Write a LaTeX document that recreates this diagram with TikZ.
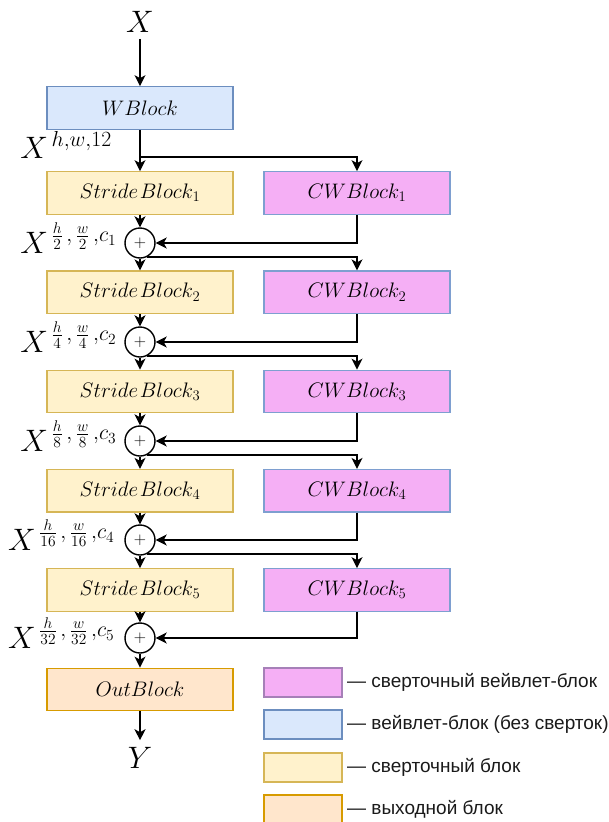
\RequirePackage{fix-cm}
\documentclass[tikz,border=0pt]{standalone}
\usepackage{fontspec}
\usetikzlibrary{arrows.meta}
\newfontfamily\lgdfamily{Liberation Sans}
\newcommand\blkfont{\fontsize{21}{24}\selectfont}
\newcommand\lblfont{\fontsize{31}{34}\selectfont}
\newcommand\sumfont{\fontsize{17}{19}\selectfont}
\newcommand\lgdfont{\lgdfamily\fontsize{19}{22}\selectfont}
\definecolor{wfill}{HTML}{DAE8FC}
\definecolor{wline}{HTML}{6C8EBF}
\definecolor{sfill}{HTML}{FFF2CC}
\definecolor{sline}{HTML}{D6B656}
\definecolor{cfill}{HTML}{F5AFF5}
\definecolor{cline}{HTML}{7E9FD0}
\definecolor{kline}{HTML}{A680B8}
\definecolor{ofill}{HTML}{FFE6CC}
\definecolor{oline}{HTML}{D79B00}
\definecolor{lgdtext}{HTML}{1A1A1A}
\begin{document}
\begin{tikzpicture}[x=1pt,y=-1pt,
  >={Stealth[length=11pt,width=11pt,inset=3pt]},
  blk/.style={draw, line width=1.2pt, minimum width=186pt, minimum height=42.5pt, inner sep=0pt, font=\blkfont},
  wblk/.style={blk, fill=wfill, draw=wline},
  sblk/.style={blk, fill=sfill, draw=sline},
  cwblk/.style={blk, fill=cfill, draw=cline},
  oblk/.style={blk, fill=ofill, draw=oline},
  sumnode/.style={circle, draw, line width=1.4pt, minimum size=30pt, inner sep=0pt, font=\sumfont},
  conn/.style={line width=1.4pt},
  io/.style={font=\lblfont, inner sep=2pt},
  lbl/.style={font=\lblfont, inner sep=0pt, anchor=base east},
  key/.style={draw, line width=1.2pt, minimum width=78pt, minimum height=29pt, inner sep=0pt},
  keytxt/.style={anchor=west, font=\lgdfont, text=lgdtext, inner sep=0pt}
]
\useasboundingbox (0,0) rectangle (609,822);

% input, wavelet block and output block
\node[io] (xin) at (140,22) {$X$};
\node[wblk] (wb) at (140,108) {$WBlock$};
\node[oblk] (ob) at (140,689.5) {$OutBlock$};
\node[io] (yout) at (140,758) {$Y$};

% stride / CW stages with summation nodes
\foreach \i/\y/\py in {1/193/243, 2/292.25/342, 3/391.5/441, 4/490.75/540, 5/590/638}{
  \node[sblk]  (s\i)  at (140,\y) {$Stride\mkern1.5mu Block_{\i}$};
  \node[cwblk] (cw\i) at (357,\y) {$CWBlock_{\i}$};
  \node[sumnode] (p\i) at (140,\py) {$+$};
}

% feature-map labels
\node[lbl] (l0) at (112,158) {$X^{\,h,w,12}$};
\node[lbl] (l1) at (117,253) {$X^{\,\frac{h}{2}\,,\,\frac{w}{2}\,,c_1}$};
\node[lbl] (l2) at (117,352) {$X^{\,\frac{h}{4}\,,\,\frac{w}{4}\,,c_2}$};
\node[lbl] (l3) at (117,451) {$X^{\,\frac{h}{8}\,,\,\frac{w}{8}\,,c_3}$};
\node[lbl] (l4) at (115,550) {$X^{\,\frac{h}{16}\,,\,\frac{w}{16}\,,c_4}$};
\node[lbl] (l5) at (115,648) {$X^{\,\frac{h}{32}\,,\,\frac{w}{32}\,,c_5}$};

% connectors
\draw[conn,->,shorten <=4pt] (xin) -- (wb);
\draw[conn,->] (wb) -- (s1);
\coordinate (b0) at (140,157);
\draw[conn,->] (b0) -| (cw1);
\foreach \i in {1,...,5}{
  \draw[conn,->] (s\i) -- (p\i);
  \draw[conn,->] (cw\i) |- (p\i);
}
\foreach \i/\j in {1/2,2/3,3/4,4/5}{
  \draw[conn,->] (p\i) -- (s\j);
  \draw[conn,->] (p\i.-62) -| (cw\j);
}
\draw[conn,->] (p5) -- (ob);
\draw[conn,->,shorten >=5pt] (ob) -- (yout);

% legend
\node[key, fill=cfill, draw=kline] (k1) at (303,682.5) {};
\node[key, fill=wfill, draw=wline] (k2) at (303,724.5) {};
\node[key, fill=sfill, draw=sline] (k3) at (303,767.5) {};
\node[key, fill=ofill, draw=oline] (k4) at (303,809.5) {};
\node[keytxt] (t1) at (347,682.5) {— сверточный вейвлет-блок};
\node[keytxt] (t2) at (347,724.5) {— вейвлет-блок (без сверток)};
\node[keytxt] (t3) at (347,767.5) {— сверточный блок};
\node[keytxt] (t4) at (347,809.5) {— выходной блок};
\end{tikzpicture}
\end{document}
